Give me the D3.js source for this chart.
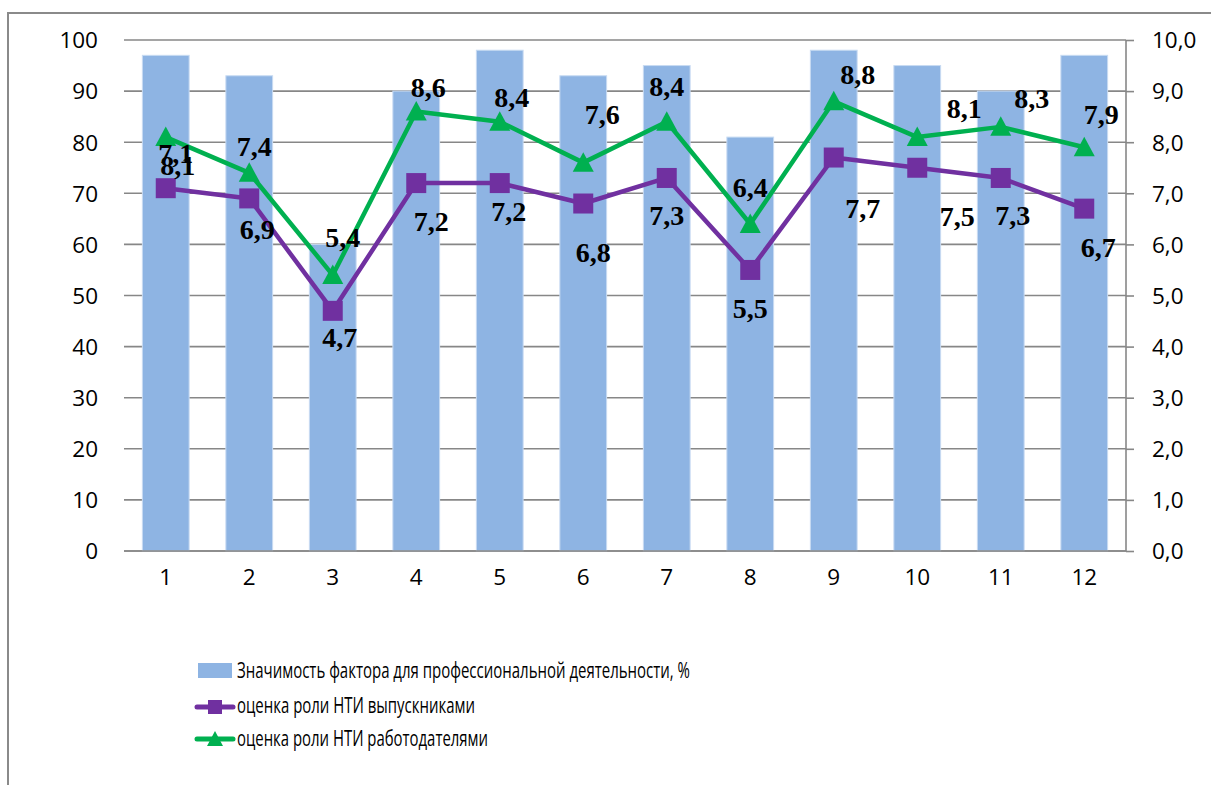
<!DOCTYPE html>
<html>
<head>
<meta charset="utf-8">
<script src="https://cdn.jsdelivr.net/npm/d3@7"></script>
<style>
  body { margin: 0; background: #fff; }
  svg { display: block; }
</style>
</head>
<body>
<svg id="chart" width="1211" height="785"></svg>
<script>
// ---- data ----
const categories = ["1", "2", "3", "4", "5", "6", "7", "8", "9", "10", "11", "12"];
const importance = [97, 93, 60, 90, 98, 93, 95, 81, 98, 95, 90, 97];
const graduates  = [7.1, 6.9, 4.7, 7.2, 7.2, 6.8, 7.3, 5.5, 7.7, 7.5, 7.3, 6.7];
const employers  = [8.1, 7.4, 5.4, 8.6, 8.4, 7.6, 8.4, 6.4, 8.8, 8.1, 8.3, 7.9];
const leftTicks  = [0, 10, 20, 30, 40, 50, 60, 70, 80, 90, 100];
const rightTicks = [0, 1, 2, 3, 4, 5, 6, 7, 8, 9, 10];
const seriesNames = [
  "Значимость фактора для профессиональной деятельности, %",
  "оценка роли НТИ выпускниками",
  "оценка роли НТИ работодателями"
];

// ---- value label nudges (dx, dy from marker centre) ----
const employerLabelNudge = [[12,30],[5,-25],[10,-36],[12,-23],[12,-23],[19,-47],[0,-34],[0,-35],[24,-26],[47,-27],[31,-27],[17,-32]];
const graduateLabelNudge = [[10,-34],[8,32],[7,28],[15,40],[9,30],[10,50],[0,39],[0,40],[29,52],[40,50],[12,39],[14,40]];

// ---- styling ----
const barColor = "#8eb4e3";
const purple = "#7030a0";
const green = "#00b050";
const gridColor = "#878787";
const axisFont = "'Open Sans', 'Liberation Sans', sans-serif";
const labelFont = "'Liberation Serif', 'DejaVu Serif', serif";

const svg = d3.select("#chart");
const plot = { left: 124, right: 1126, top: 40, bottom: 551 };

const x = d3.scaleBand()
  .domain(categories)
  .range([plot.left, plot.right])
  .paddingInner(0.44)
  .paddingOuter(0.22);
const yL = d3.scaleLinear().domain([0, 100]).range([plot.bottom, plot.top]);
const yR = d3.scaleLinear().domain([0, 10]).range([plot.bottom, plot.top]);
const cx = c => x(c) + x.bandwidth() / 2;
const oneDecimal = d3.format(".1f");
const fmt = v => oneDecimal(v).replace(".", ",");

// chart frame (left and top edges)
svg.append("path")
  .attr("d", "M8,785 L8,13 L1211,13")
  .attr("fill", "none")
  .attr("stroke", "#8a8a8a")
  .attr("stroke-width", 2);

// horizontal gridlines
svg.append("g")
  .selectAll("line")
  .data(leftTicks)
  .join("line")
  .attr("x1", plot.left)
  .attr("x2", plot.right)
  .attr("y1", d => yL(d))
  .attr("y2", d => yL(d))
  .attr("stroke", gridColor)
  .attr("stroke-width", 1.6);

// bars
svg.append("g")
  .selectAll("rect")
  .data(categories)
  .join("rect")
  .attr("x", c => x(c))
  .attr("width", x.bandwidth())
  .attr("y", (c, i) => yL(importance[i]))
  .attr("height", (c, i) => yL(0) - yL(importance[i]))
  .attr("fill", barColor)
  .attr("stroke", "#c8dbf2")
  .attr("stroke-width", 1);

// category axis baseline
svg.append("line")
  .attr("x1", plot.left).attr("x2", plot.right)
  .attr("y1", plot.bottom).attr("y2", plot.bottom)
  .attr("stroke", gridColor).attr("stroke-width", 1.6);

// left axis labels
const leftAxis = d3.axisLeft(yL).tickValues(leftTicks).tickSize(0).tickPadding(0).tickFormat(d3.format("d"));
svg.append("g")
  .attr("transform", `translate(98,0)`)
  .call(leftAxis)
  .call(g => g.select(".domain").remove())
  .selectAll("text")
  .attr("font-family", axisFont)
  .attr("font-size", 22.5)
  .attr("fill", "#000")
  .attr("dy", "0.35em");

// right axis with outward ticks
const rightAxis = d3.axisRight(yR).tickValues(rightTicks).tickSize(8).tickPadding(18).tickFormat(fmt);
svg.append("g")
  .attr("transform", `translate(${plot.right},0)`)
  .call(rightAxis)
  .call(g => g.select(".domain")
    .attr("d", `M0,${plot.top}V${plot.bottom}`)
    .attr("stroke", gridColor).attr("stroke-width", 1.6))
  .call(g => g.selectAll(".tick line").attr("stroke", gridColor).attr("stroke-width", 1.6))
  .selectAll("text")
  .attr("font-family", axisFont)
  .attr("font-size", 22.5)
  .attr("fill", "#000")
  .attr("dy", "0.35em");

// category labels
const bottomAxis = d3.axisBottom(x).tickSize(0).tickPadding(0);
svg.append("g")
  .attr("transform", `translate(0,${plot.bottom + 26})`)
  .call(bottomAxis)
  .call(g => g.select(".domain").remove())
  .selectAll("text")
  .attr("font-family", axisFont)
  .attr("font-size", 22.5)
  .attr("fill", "#000")
  .attr("dy", "0.35em");

// lines
const lineGen = vals => d3.line()
  .x((c, i) => cx(c))
  .y((c, i) => yR(vals[i]))(categories);

svg.append("path")
  .attr("d", lineGen(graduates))
  .attr("fill", "none").attr("stroke", purple)
  .attr("stroke-width", 4.5).attr("stroke-linejoin", "round");

svg.append("path")
  .attr("d", lineGen(employers))
  .attr("fill", "none").attr("stroke", green)
  .attr("stroke-width", 4.5).attr("stroke-linejoin", "round");

// markers
const squareSide = 20;
svg.append("g")
  .selectAll("rect")
  .data(categories)
  .join("rect")
  .attr("x", c => cx(c) - squareSide / 2)
  .attr("y", (c, i) => yR(graduates[i]) - squareSide / 2)
  .attr("width", squareSide)
  .attr("height", squareSide)
  .attr("fill", purple);

const triPath = "M0,-10.5 L10.5,9 L-10.5,9 Z";
svg.append("g")
  .selectAll("path")
  .data(categories)
  .join("path")
  .attr("d", triPath)
  .attr("transform", (c, i) => `translate(${cx(c)},${yR(employers[i])})`)
  .attr("fill", green);

// value labels
function valueLabels(vals, nudge) {
  svg.append("g")
    .selectAll("text")
    .data(categories)
    .join("text")
    .attr("x", (c, i) => cx(c) + nudge[i][0])
    .attr("y", (c, i) => yR(vals[i]) + nudge[i][1])
    .attr("dy", "0.3em")
    .attr("text-anchor", "middle")
    .attr("font-family", labelFont)
    .attr("font-weight", "bold")
    .attr("font-size", 28)
    .attr("fill", "#000")
    .text((c, i) => fmt(vals[i]));
}
valueLabels(graduates, graduateLabelNudge);
valueLabels(employers, employerLabelNudge);

// legend
const legend = svg.append("g");
const legendRows = [678, 713, 746];
const legendWidths = [453, 238, 251];

legend.append("rect")
  .attr("x", 198).attr("y", 663).attr("width", 34).attr("height", 15)
  .attr("fill", barColor);

legend.append("line")
  .attr("x1", 197).attr("x2", 233).attr("y1", 707).attr("y2", 707)
  .attr("stroke", purple).attr("stroke-width", 5).attr("stroke-linecap", "round");
legend.append("rect")
  .attr("x", 208).attr("y", 700).attr("width", 14).attr("height", 14)
  .attr("fill", purple);

legend.append("line")
  .attr("x1", 197).attr("x2", 233).attr("y1", 739).attr("y2", 739)
  .attr("stroke", green).attr("stroke-width", 5).attr("stroke-linecap", "round");
legend.append("path")
  .attr("d", "M0,-8 L8,7 L-8,7 Z")
  .attr("transform", "translate(215,739)")
  .attr("fill", green);

legend.selectAll("text")
  .data(seriesNames)
  .join("text")
  .attr("x", 237)
  .attr("y", (d, i) => legendRows[i])
  .attr("font-family", axisFont)
  .attr("font-size", 21)
  .attr("fill", "#000")
  .attr("textLength", (d, i) => legendWidths[i])
  .attr("lengthAdjust", "spacingAndGlyphs")
  .text(d => d);
</script>
</body>
</html>
